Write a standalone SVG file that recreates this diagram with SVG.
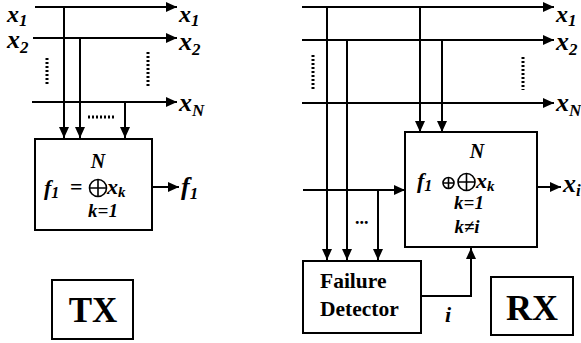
<svg xmlns="http://www.w3.org/2000/svg" width="581" height="343" viewBox="0 0 581 343">
<defs>
<marker id="ah" markerWidth="11" markerHeight="10" refX="11" refY="5" orient="auto" markerUnits="userSpaceOnUse">
<path d="M0,0 L11,5 L0,10 Z" fill="#000"/>
</marker>
<style>
.ar{stroke:#000;stroke-width:2;fill:none;marker-end:url(#ah)}
.dt{stroke:#000;stroke-width:3;stroke-dasharray:2 2;fill:none}
.bx{stroke:#000;stroke-width:2;fill:#fff}
.v{font-family:'Liberation Serif','Times New Roman','DejaVu Serif',serif;font-style:italic;font-weight:bold;fill:#000}
.b{font-family:'Liberation Serif','Times New Roman','DejaVu Serif',serif;font-weight:bold;fill:#000}
.op{stroke:#000;stroke-width:1.6;fill:none}
</style>
</defs>
<rect width="581" height="343" fill="#fff"/>
<g id="connectors">
<path class="ar" d="M35,7 H177"/>
<path class="ar" d="M33,38 H177"/>
<path class="ar" d="M32,102 H177"/>
<path class="ar" d="M64,7 V138"/>
<path class="ar" d="M80,38 V138"/>
<path class="ar" d="M125,102 V138"/>
<path class="dt" d="M47,58 V86"/>
<path class="dt" d="M148,52 V88"/>
<path class="dt" d="M88,117 H114"/>
<path class="ar" d="M152,187 H179"/>
<path class="ar" d="M302,7 H554"/>
<path class="ar" d="M302,40 H554"/>
<path class="ar" d="M302,103 H554"/>
<path class="ar" d="M327,7 V260"/>
<path class="ar" d="M347,40 V260"/>
<path class="ar" d="M420,7 V132"/>
<path class="ar" d="M442,40 V132"/>
<path class="ar" d="M303,190 H405"/>
<path class="ar" d="M378,190 V260"/>
<path class="dt" d="M313,55 V90"/>
<path class="dt" d="M523,57 V90"/>
<path class="ar" d="M537,187 H561"/>
<path class="ar" d="M421,296 H471 V248"/>
</g>
<g id="labels">
<text class="v" x="7" y="21.5" font-size="24">x<tspan font-size="17" dy="4">1</tspan></text>
<text class="v" x="7" y="48" font-size="26">x<tspan font-size="17" dy="5">2</tspan></text>
<text class="v" x="179" y="21.5" font-size="24">x<tspan font-size="17" dy="4">1</tspan></text>
<text class="v" x="179" y="50" font-size="26">x<tspan font-size="17" dy="5">2</tspan></text>
<text class="v" x="179" y="111" font-size="26">x<tspan font-size="17" dy="5">N</tspan></text>
<text class="v" x="181" y="195" font-size="26">f<tspan font-size="17" dy="4">1</tspan></text>
<text class="v" x="556" y="21.5" font-size="24">x<tspan font-size="17" dy="4">1</tspan></text>
<text class="v" x="556" y="50" font-size="26">x<tspan font-size="17" dy="5">2</tspan></text>
<text class="v" x="556" y="111" font-size="26">x<tspan font-size="17" dy="5">N</tspan></text>
<text class="v" x="563" y="192" font-size="26">x<tspan font-size="17" dy="4">i</tspan></text>
<text class="v" x="445" y="322" font-size="22">i</text>
<text class="b" x="355" y="224" font-size="18">...</text>
</g>
<g id="tx-func">
<rect class="bx" x="35" y="139" width="117" height="91"/>
<text class="v" x="98" y="168" font-size="20" text-anchor="middle">N</text>
<text class="v" x="44" y="195" font-size="22">f<tspan font-size="16" dy="3">1</tspan></text>
<text class="b" x="70" y="194" font-size="22">=</text>
<g class="op"><circle cx="98" cy="188" r="8.5"/><path d="M89.5,188 H106.5 M98,179.5 V196.5"/></g>
<text class="v" x="107" y="194" font-size="22">x<tspan font-size="15" dy="3">k</tspan></text>
<text class="v" x="103" y="217" font-size="19" text-anchor="middle">k=1</text>
</g>
<g id="tx-label">
<rect class="bx" x="52" y="280" width="81" height="59"/>
<text class="b" x="93" y="322" font-size="35" text-anchor="middle">TX</text>
</g>
<g id="rx-func">
<rect class="bx" x="405" y="132" width="132" height="115"/>
<text class="v" x="477" y="158" font-size="20" text-anchor="middle">N</text>
<text class="v" x="417" y="188" font-size="22">f<tspan font-size="16" dy="3">1</tspan></text>
<g class="op"><circle cx="448.5" cy="183" r="5.5"/><path d="M443,183 H454 M448.5,177.5 V188.5"/></g>
<g class="op"><circle cx="466.5" cy="182" r="8.5"/><path d="M458,182 H475 M466.5,173.5 V190.5"/></g>
<text class="v" x="476" y="188" font-size="22">x<tspan font-size="15" dy="3">k</tspan></text>
<text class="v" x="469" y="209" font-size="19" text-anchor="middle">k=1</text>
<text class="v" x="467" y="233" font-size="19" text-anchor="middle">k≠i</text>
</g>
<g id="failure-detector">
<rect class="bx" x="303" y="261" width="118" height="72"/>
<text class="b" x="320" y="288" font-size="21.5">Failure</text>
<text class="b" x="320" y="316" font-size="21.5">Detector</text>
</g>
<g id="rx-label">
<rect class="bx" x="491" y="277" width="82" height="58"/>
<text class="b" x="532" y="320" font-size="36" text-anchor="middle">RX</text>
</g>
</svg>
